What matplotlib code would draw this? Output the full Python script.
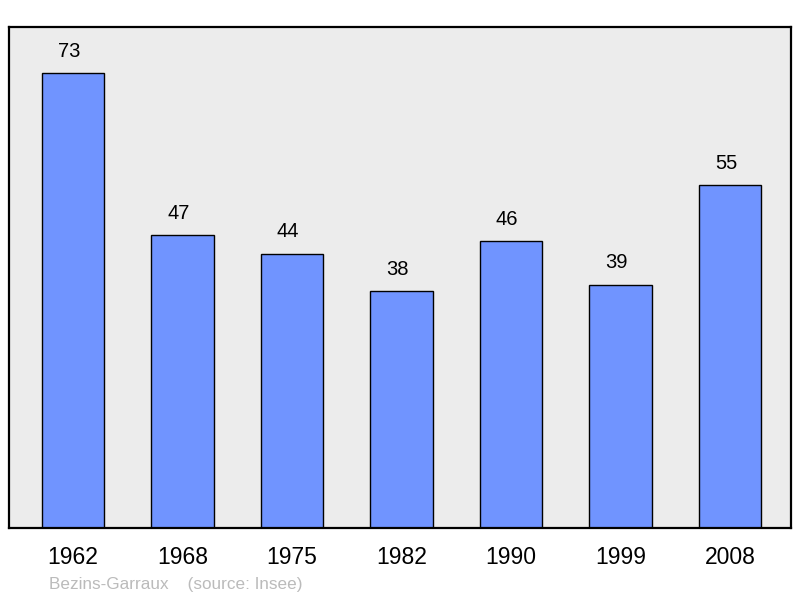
import matplotlib.pyplot as plt

plt.rcParams["font.family"] = ["Liberation Sans", "DejaVu Sans"]

years = ["1962", "1968", "1975", "1982", "1990", "1999", "2008"]
pop = [73, 47, 44, 38, 46, 39, 55]

fig = plt.figure(figsize=(8, 5.98), dpi=100)
ax = fig.add_axes([9/800, 70/598, 782/800, 501/598])
ax.set_facecolor("#ececec")

x = range(len(years))
bars = ax.bar(x, pop, width=0.57, color="#7094ff", edgecolor="black", linewidth=1)
for xi, v in zip(x, pop):
    ax.annotate(str(v), (xi, v), xytext=(-3, 9), textcoords="offset points",
                ha="center", va="bottom", fontsize=14.5)

ax.set_xlim(-0.585, 6.556)
ax.set_ylim(0, 80.4)
ax.set_yticks([])
ax.set_xticks(list(x))
ax.set_xticklabels(years, fontsize=16.5)
ax.tick_params(axis="x", length=0, pad=13)
for s in ax.spines.values():
    s.set_linewidth(1.6)

fig.text(49/800, 1 - 584/598, "Bezins-Garraux    (source: Insee)", color="#bbbbbb",
         fontsize=12.3, ha="left", va="center")

fig.savefig("out.png", dpi=100)
